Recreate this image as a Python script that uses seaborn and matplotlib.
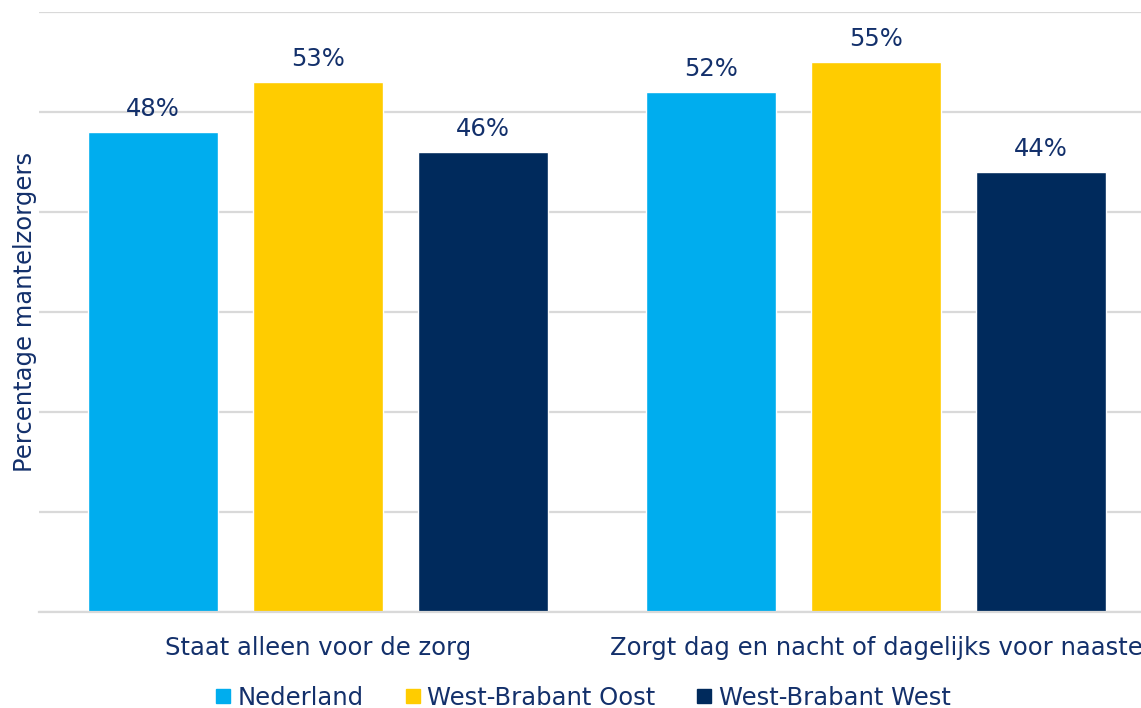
import matplotlib
matplotlib.use("Agg")
import matplotlib.pyplot as plt
from matplotlib.lines import Line2D
import pandas as pd
import seaborn as sns

categories = ["Staat alleen voor de zorg",
              "Zorgt dag en nacht of dagelijks voor naaste"]
regions = ["Nederland", "West-Brabant Oost", "West-Brabant West"]
nederland = [48, 52]
wb_oost = [53, 55]
wb_west = [46, 44]
colors = ["#00ADEE", "#FFCC00", "#002A5C"]
text_color = "#13306B"

df = pd.DataFrame({
    "categorie": categories * 3,
    "regio": [r for r in regions for _ in categories],
    "pct": nederland + wb_oost + wb_west,
})

sns.set_theme(style="white")
plt.rcParams["font.family"] = ["DejaVu Sans"]

fs = 17.5
fig = plt.figure(figsize=(11.41, 7.08), dpi=100)
ax = fig.add_axes([39 / 1141, 96 / 708, (1141 - 39) / 1141, 600 / 708])

sns.barplot(data=df, x="categorie", y="pct", hue="regio", hue_order=regions,
            palette=colors, width=0.887, gap=0.21, saturation=1,
            legend=False, ax=ax)

for cont in ax.containers:
    ax.bar_label(cont, fmt="%.0f%%", padding=8, fontsize=fs, color=text_color)

ax.set_ylim(0, 60)
ax.set_xlim(-0.5, 1.475)
ax.set_yticks(range(0, 61, 10))
ax.set_yticklabels([])
ax.yaxis.grid(True, color="#D9D9D9", linewidth=1.6)
ax.set_axisbelow(True)
for s in ["top", "right", "left"]:
    ax.spines[s].set_visible(False)
ax.spines["bottom"].set_color("#D9D9D9")
ax.spines["bottom"].set_linewidth(1.6)
ax.tick_params(axis="both", length=0)
ax.tick_params(axis="x", labelsize=fs, labelcolor=text_color, pad=17)
ax.set_xlabel("")
ax.set_ylabel("Percentage mantelzorgers", fontsize=fs, color=text_color, labelpad=-2)

handles = [Line2D([], [], marker="s", linestyle="", markersize=10,
                  markerfacecolor=c, markeredgecolor=c) for c in colors]
fig.legend(handles, regions, loc="center", bbox_to_anchor=(582 / 1141, 1 - 698 / 708),
           ncol=3, frameon=False, fontsize=fs, labelcolor=text_color,
           handletextpad=0.2, columnspacing=1.6, handlelength=0.8)

fig.savefig("out.png", dpi=100)
